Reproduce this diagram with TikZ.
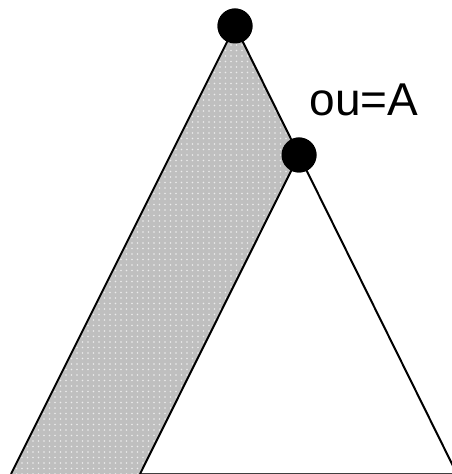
\documentclass[tikz,border=0pt]{standalone}
\usepackage{fontspec}
\setmainfont{Liberation Sans}
\usetikzlibrary{patterns}
\pgfdeclarepatternformonly{sparsedots}{\pgfqpoint{-1pt}{-1pt}}{\pgfqpoint{1pt}{1pt}}{\pgfqpoint{5.5pt}{5.5pt}}{
  \pgfpathcircle{\pgfqpoint{0pt}{0pt}}{0.9pt}
  \pgfusepath{fill}
}

\begin{document}
\begin{tikzpicture}[x=1pt,y=1pt,
  edge/.style={line width=2pt},
  vertex/.style={circle,fill=black,inner sep=0pt,minimum size=35pt}]
\useasboundingbox (0,0) rectangle (452,474);
\clip (0,0) rectangle (452,474);
\coordinate (bigleft) at (11,0);
\coordinate (bigright) at (457,0);
\coordinate (smallleft) at (140,0);
\node[vertex] (top) at (235,448) {};
\node[vertex] (ou) at (299,319) {};
\fill[gray!50] (top.center) -- (bigleft) -- (smallleft) -- (ou.center) -- cycle;
\fill[pattern=sparsedots,pattern color=white!85!gray] (top.center) -- (bigleft) -- (smallleft) -- (ou.center) -- cycle;
\draw[line width=1.8pt,black!75] (smallleft) -- (bigright);
\draw[edge] (top.center) -- (bigleft);
\draw[edge] (top.center) -- (bigright);
\draw[edge] (ou.center) -- (smallleft);
\node[vertex] at (top) {};
\node[vertex] at (ou) {};
\node[anchor=base,inner sep=0pt] (label) at (364,358) {\fontsize{46}{52}\selectfont ou=A};
\end{tikzpicture}
\end{document}
